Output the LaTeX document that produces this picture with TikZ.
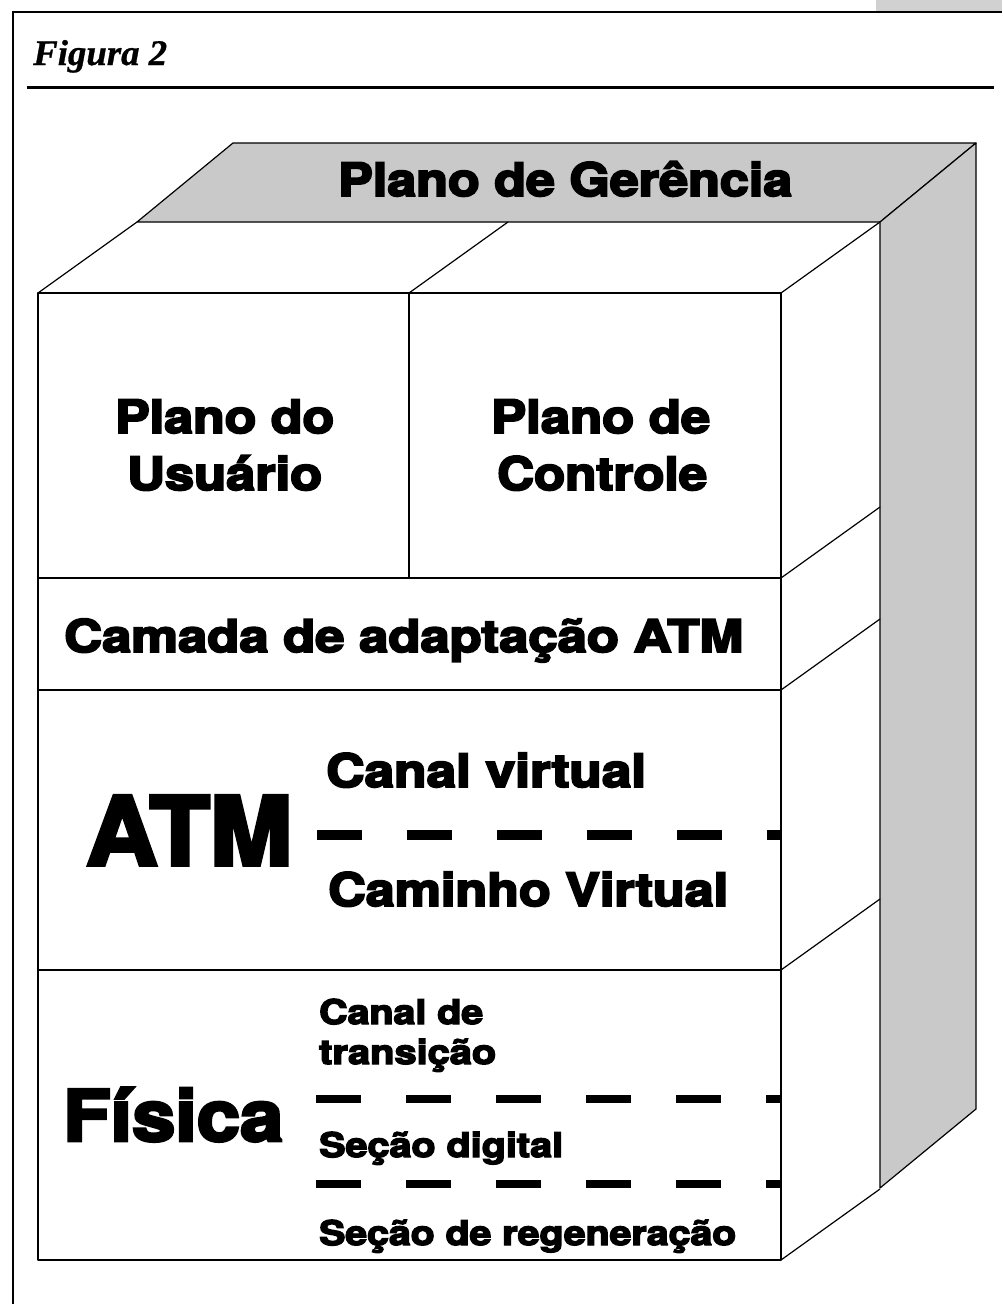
\documentclass[tikz,border=0pt]{standalone}
\usepackage{fontspec}
\usepackage{graphicx}
\setmainfont{Liberation Serif}
\newfontfamily\hb{TeX Gyre Heros}[BoldFeatures={FakeBold=4}]
\newfontfamily\tms{Liberation Serif}[BoldItalicFeatures={FakeBold=0.8}]
\newsavebox\fitbox
\newcommand\fitx[2]{\sbox\fitbox{#2}\pgfmathsetmacro\fxr{#1/\the\wd\fitbox}\scalebox{\fxr}[1]{\usebox\fitbox}}
\tikzset{
  lbl/.style={inner sep=0pt, anchor=base west},
  fnt/.style={font=\hb\bfseries\fontsize{#1}{#1}\selectfont},
  edge/.style={line width=1.2pt, line join=round},
  grayface/.style={edge, fill=black!21},
  dashsep/.style={line width=#1, dash pattern=on 45pt off 45pt},
  frame/.style={line width=2.6pt}
}
\begin{document}
\begin{tikzpicture}[x=1pt,y=-1pt]
\useasboundingbox (0,0) rectangle (1002,1304);
% page shadow patch
\fill[black!18] (876,0) rectangle (1002,12);
% frame and title rule
\draw[frame] (13,1304) -- (13,12) -- (1002,12);
\draw[line width=2.8pt] (27,87.5) -- (994,87.5);
\node[lbl, font=\tms\bfseries\itshape\fontsize{36}{40}\selectfont] (title) at (33,65) {\fitx{134}{Figura 2}};
% management plane (gray) faces
\draw[grayface] (233,143) -- (976,143) -- (880,222) -- (137,222) -- cycle;
\draw[grayface] (880,222) -- (976,143) -- (976,1109) -- (880,1188) -- cycle;
% inner box: top face
\draw[edge] (38,293) -- (137,222);
\draw[edge] (409,293) -- (508,222);
\draw[edge] (781,293) -- (880,222);
% inner box: front faces
\draw[edge, fill=white] (38,293) rectangle (781,1260);
\draw[edge] (38,578) -- (781,578);
\draw[edge] (38,690) -- (781,690);
\draw[edge] (38,970) -- (781,970);
\draw[edge] (409,293) -- (409,578);
% inner box: right side face
\draw[edge] (781,578) -- (880,507);
\draw[edge] (781,690) -- (880,619);
\draw[edge] (781,970) -- (880,899);
\draw[edge] (781,1260) -- (880,1189);
% texts
\node[lbl, fnt=46] (ger) at (338,196) {\fitx{454}{Plano de Gerência}};
\node[lbl, fnt=46] (usr1) at (115,433) {\fitx{219}{Plano do}};
\node[lbl, fnt=46] (usr2) at (127,490) {\fitx{195}{Usuário}};
\node[lbl, fnt=46] (ctl1) at (491,433) {\fitx{219}{Plano de}};
\node[lbl, fnt=46] (ctl2) at (497,490) {\fitx{210}{Controle}};
\node[lbl, fnt=45] (aal) at (64,652) {\fitx{679}{Camada de adaptação ATM}};
\node[lbl, fnt=95] (atm) at (86,865) {\fitx{206}{ATM}};
\node[lbl, fnt=46] (vc) at (326,787) {\fitx{320}{Canal virtual}};
\node[lbl, fnt=46] (vp) at (328,906) {\fitx{400}{Caminho Virtual}};
\node[lbl, fnt=71] (fis) at (63,1141) {\fitx{220}{Física}};
\node[lbl, fnt=34] (tp1) at (319,1024) {\fitx{164}{Canal de}};
\node[lbl, fnt=34] (tp2) at (319,1064) {\fitx{177}{transição}};
\node[lbl, fnt=34] (dg) at (319,1157) {\fitx{244}{Seção digital}};
\node[lbl, fnt=34] (rg) at (319,1245) {\fitx{417}{Seção de regeneração}};
% dashed separators
\coordinate (a1) at (317,835);  \coordinate (a2) at (781,835);
\coordinate (b1) at (316,1099); \coordinate (b2) at (781,1099);
\coordinate (c1) at (316,1184); \coordinate (c2) at (781,1184);
\draw[dashsep=10pt] (a1) -- (a2);
\draw[dashsep=8.5pt] (b1) -- (b2);
\draw[dashsep=8.5pt] (c1) -- (c2);
\end{tikzpicture}
\end{document}
